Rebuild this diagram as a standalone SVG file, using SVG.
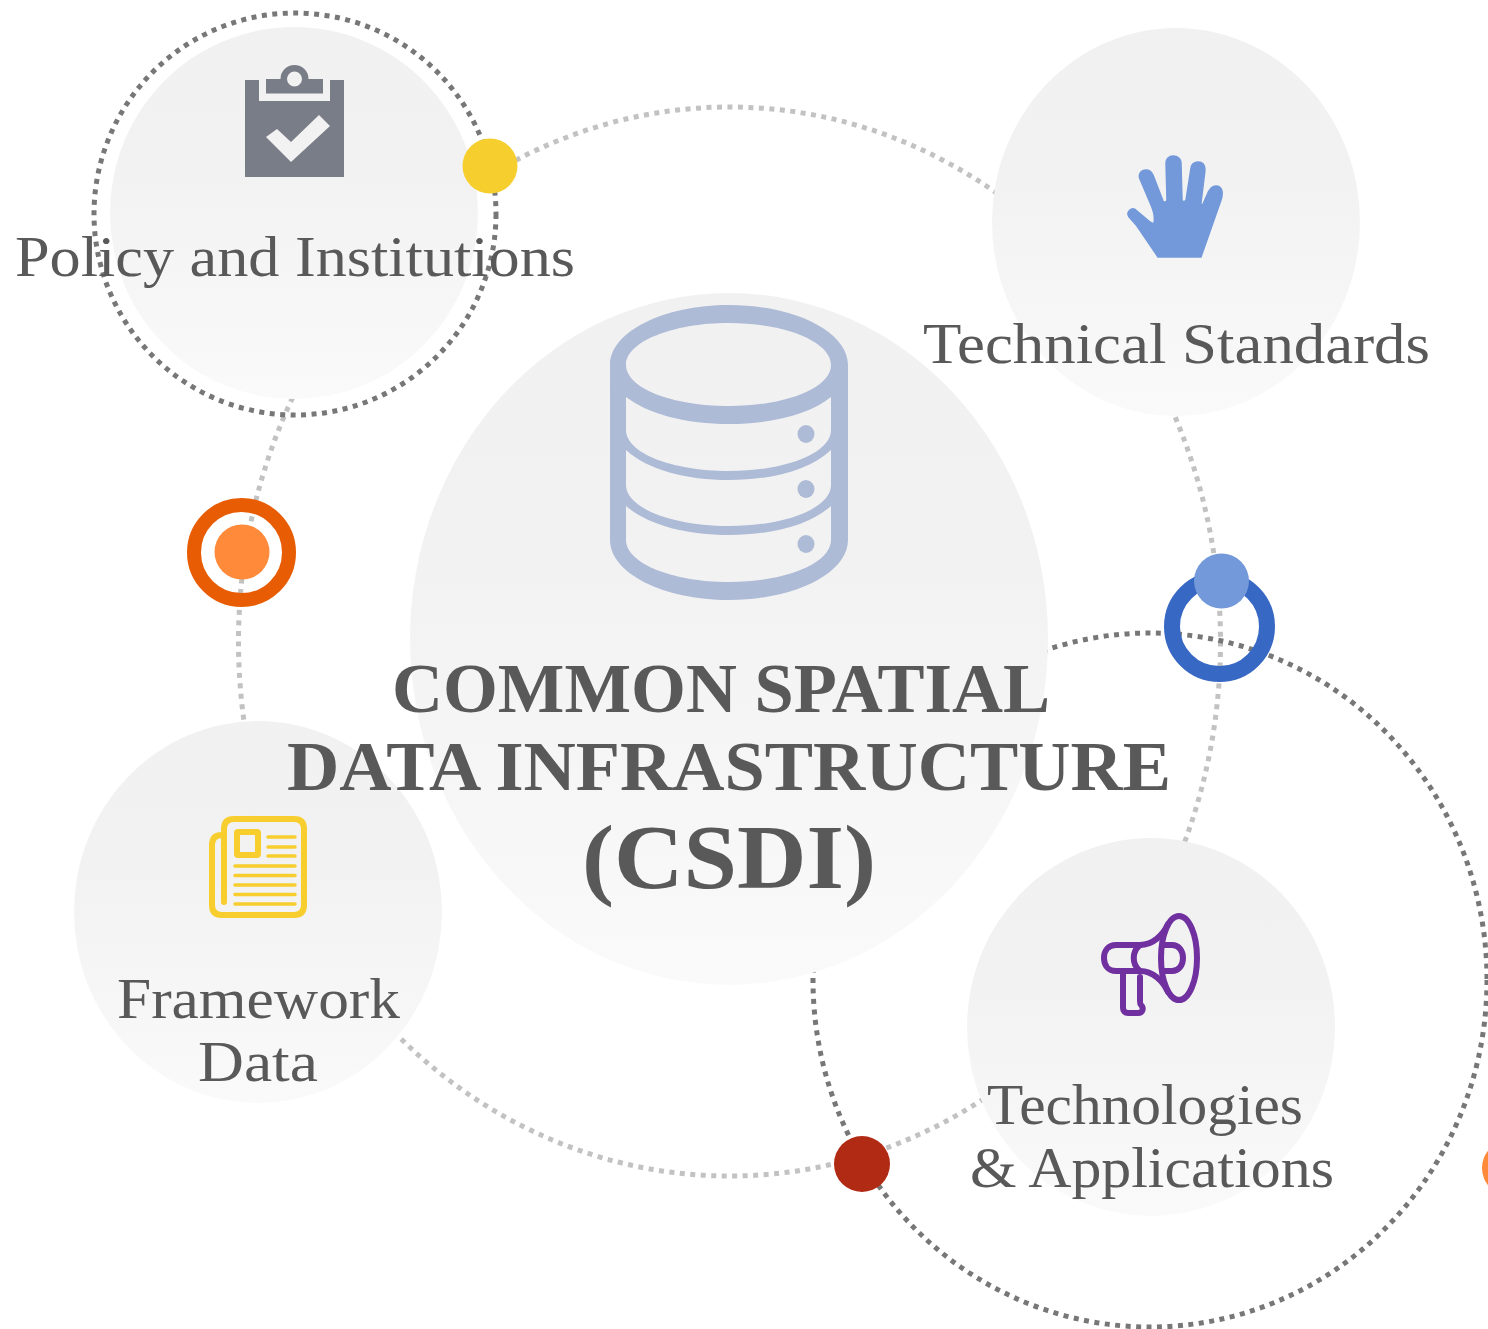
<svg xmlns="http://www.w3.org/2000/svg" width="1488" height="1329" viewBox="0 0 1488 1329">
<style>
.bg{fill:url(#g)}
.lt{fill:none;stroke:#c2c2c2;stroke-width:5;stroke-dasharray:5 5.5}
.dk{fill:none;stroke:#777;stroke-width:5;stroke-dasharray:5 5.5}
text{font-family:"Liberation Serif","DejaVu Serif",serif;fill:#595959;text-anchor:start}
.n{font-size:58px}
.b{font-weight:bold;font-size:70px}
.o{fill:none;stroke-linecap:round;stroke-linejoin:round}
</style>
<defs>
<linearGradient id="g" x1="0" y1="0" x2="0" y2="1"><stop offset="0" stop-color="#f1f1f1"/><stop offset="0.4" stop-color="#f2f2f2"/><stop offset="1" stop-color="#fafafa"/></linearGradient>
</defs>
<rect width="1488" height="1329" fill="#fff"/>
<g id="connectors">
<ellipse class="lt" cx="729.500" cy="641.500" rx="491" ry="534.500"/>
<ellipse class="dk" cx="1150" cy="980" rx="337" ry="347"/>
<circle class="dk" cx="295" cy="214" r="201"/>
</g>
<g id="center">
<ellipse class="bg" cx="729" cy="639" rx="319" ry="346"/>
<path fill="#aebbd7" fill-rule="evenodd" d="M610,365C610,332 663,305 729,305S848,332 848,365V540C848,573 795,600 729,600S610,573 610,540ZM626,365C626,388 672,406 729,406S831,388 831,365S786,323 729,323S626,342 626,365ZM626,397V430C626,453 672,471 729,471S831,453 831,430V397C810,414 772,424 729,424S648,414 626,397ZM626,450V485C626,508 672,526 729,526S831,508 831,485V450C810,470 772,480 729,480S648,470 626,450ZM626,506V540C626,563 672,582 729,582S831,563 831,540V506C810,525 772,535 729,535S648,525 626,506Z"/>
<ellipse cx="806" cy="434" rx="8.500" ry="9" fill="#aebbd7"/>
<ellipse cx="806" cy="489" rx="8.500" ry="9" fill="#aebbd7"/>
<ellipse cx="806" cy="544" rx="8.500" ry="9" fill="#aebbd7"/>
</g>
<g id="policy">
<ellipse class="bg" cx="294" cy="213" rx="184" ry="186"/>
<path fill="#797d87" fill-rule="evenodd" d="M245,80H259V101H330V80H344V177H245ZM266,79H280.500A14,14 0 0 1 308.500,79H323V93.500H266ZM287,79A7.500,7.500 0 1 0 302,79A7.500,7.500 0 1 0 287,79ZM266,137L277,129L291,142L319,115L330,126L291,162Z"/>
</g>
<g id="technical">
<ellipse class="bg" cx="1176" cy="222" rx="184" ry="194"/>
<path fill="#7399da" stroke="#7399da" stroke-width="1.500" stroke-linejoin="round" d="M1158,257H1201L1221,200C1224,191 1221,186 1216,186C1212,186 1209,190 1207,195L1203,204C1202,205 1201,205 1201,203L1205,170C1205,165 1203,162 1198,162C1194,162 1191,165 1191,168L1186,200C1185,202 1182,202 1182,200L1181,163C1181,159 1178,156 1173,156C1169,156 1166,159 1166,163L1167,200C1167,202 1164,203 1163,201L1153,175C1151,171 1149,170 1146,170C1141,170 1138,174 1140,179L1151,205C1154,212 1155,218 1154,223C1153,224 1152,223 1150,222L1137,211C1134,208 1131,208 1129,211C1127,213 1128,216 1130,218L1137,226Z"/>
</g>
<g id="framework">
<ellipse class="bg" cx="258" cy="912" rx="184" ry="191"/>
<g class="o" stroke="#f7ce2e">
<path stroke-width="6" d="M224,902V829Q224,819 234,819H294Q304,819 304,829V905Q304,915 294,915H222Q212,915 212,905V845Q212,835 222,835H224"/>
<rect x="237" y="832" width="21" height="23" rx="1" stroke-width="6"/>
<path stroke-width="3.500" d="M268,837H295M268,847H295M268,856H295M235,866H295M235,875.500H295M235,885H295M235,894.500H295M235,904H295"/>
</g>
</g>
<g id="technologies">
<ellipse class="bg" cx="1151" cy="1027" rx="184" ry="189"/>
<g class="o" stroke="#7030a0" stroke-width="6">
<ellipse cx="1179" cy="958" rx="18" ry="42"/>
<path d="M1168,924C1163,935 1153,945 1140,945H1116C1108,945 1104,951 1104,958C1104,965 1108,971 1116,971H1140C1153,971 1163,981 1168,992"/>
<path d="M1163,945H1172C1179,945 1183,951 1183,958C1183,965 1179,971 1172,971H1163"/>
<path d="M1139,946C1132,952 1132,964 1139,970"/>
<path d="M1123,972V1008C1123,1011 1125,1013 1128,1013H1138C1143,1013 1144,1008 1141,1005C1140,1004 1140,1003 1140,1001V977"/>
</g>
</g>
<g id="markers">
<circle cx="490" cy="166" r="27.500" fill="#f6cf2e"/>
<circle cx="241.500" cy="552.500" r="47.500" fill="none" stroke="#e85d04" stroke-width="14"/>
<circle cx="242" cy="552" r="27.500" fill="#ff8a3a"/>
<circle cx="1219.500" cy="626.500" r="47.500" fill="none" stroke="#3768c4" stroke-width="16"/>
<circle cx="1221.500" cy="581" r="27.500" fill="#7399da"/>
<circle cx="862" cy="1164" r="28" fill="#b12a14"/>
<circle cx="1510" cy="1168" r="28" fill="#ff8a3a"/>
</g>
<g id="labels">
<text class="n" x="15" y="276" textLength="560" lengthAdjust="spacingAndGlyphs">Policy and Institutions</text>
<text class="n" x="923" y="363" textLength="507" lengthAdjust="spacingAndGlyphs">Technical Standards</text>
<text class="n" x="117" y="1018" textLength="283" lengthAdjust="spacingAndGlyphs">Framework</text>
<text class="n" x="198" y="1081" textLength="120" lengthAdjust="spacingAndGlyphs">Data</text>
<text class="n" x="987" y="1124" textLength="316" lengthAdjust="spacingAndGlyphs">Technologies</text>
<text class="n" x="970" y="1187" textLength="364" lengthAdjust="spacingAndGlyphs">&amp; Applications</text>
<text class="b" x="392" y="712" textLength="658" lengthAdjust="spacingAndGlyphs">COMMON SPATIAL</text>
<text class="b" x="287" y="790" textLength="884" lengthAdjust="spacingAndGlyphs">DATA INFRASTRUCTURE</text>
<text class="b" x="582" y="888" textLength="294" lengthAdjust="spacingAndGlyphs" style="font-size:92px">(CSDI)</text>
</g>
</svg>
